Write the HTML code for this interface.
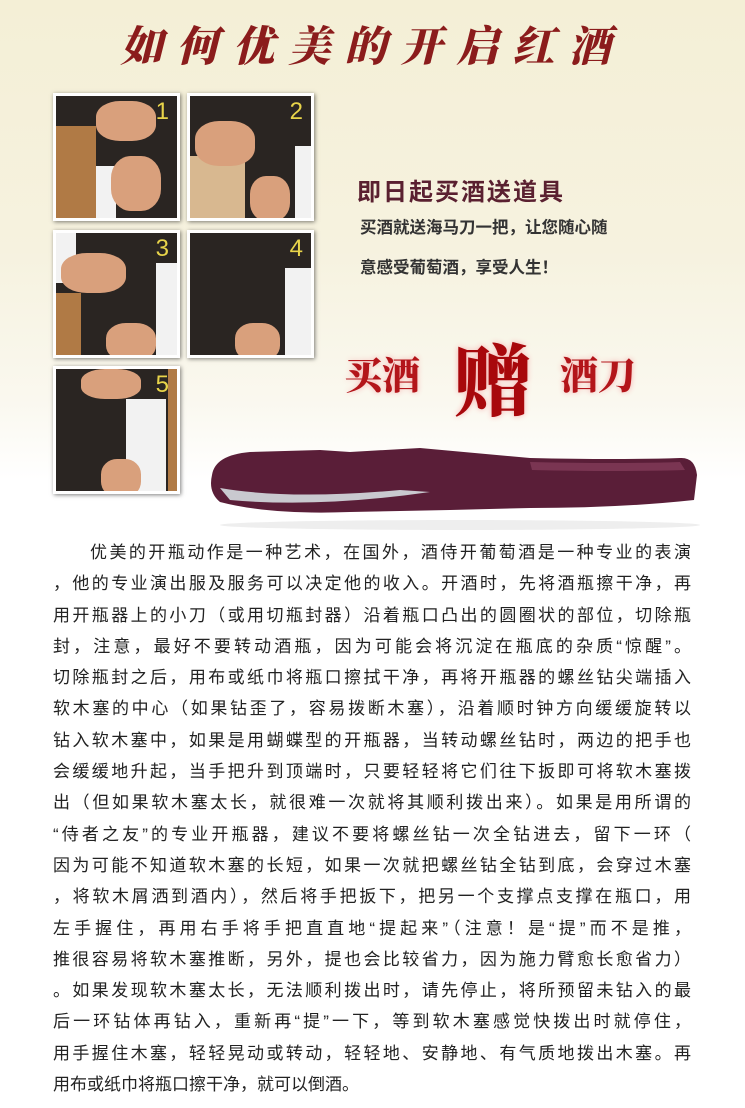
<!DOCTYPE html>
<html style="background:#fff"><head><meta charset="utf-8">
<style>
*{margin:0;padding:0;box-sizing:border-box}
body{width:745px;height:1108px;overflow:hidden;position:relative;font-family:"Liberation Sans","Noto Sans CJK SC",sans-serif;background:linear-gradient(#f4efd6 0px,#f6f2df 250px,#faf8ef 400px,#fff 480px,#fff 1108px)}
.title{position:absolute;left:0;top:14px;width:745px;text-align:center;font-family:"Noto Serif CJK SC",serif;font-size:42px;font-weight:900;color:#8b1c1c;letter-spacing:14px;font-style:italic}
.photo{position:absolute;width:127px;height:128px;border:3px solid #fff;box-shadow:1px 1px 4px rgba(0,0,0,.5);overflow:hidden;background:#2a2522}
.photo .num{position:absolute;right:8px;top:2px;color:#e8d44a;font-size:24px}
.photo .hand{position:absolute;border-radius:40%;background:#d9a07c}
.photo .shirt{position:absolute;background:#f2f2f2}
.photo .wood{position:absolute;background:#b07a45}
.promo{position:absolute;color:#5a2030;font-weight:bold}
.big{position:absolute;font-family:"Noto Serif CJK SC",serif;font-weight:900;color:#b3151a;text-shadow:0 0 6px #f7b0b0}
.para{position:absolute;left:53px;top:540px;width:638px;font-size:17px;color:#222}
.para div{height:31.3px;line-height:26px;text-align:justify;text-align-last:justify;white-space:nowrap}
</style></head><body>
<div class="title">如何优美的开启红酒</div>

<div class="photo" style="left:53px;top:93px"><div class="wood" style="left:0;top:30px;width:40px;height:98px"></div><div class="shirt" style="left:40px;top:70px;width:20px;height:58px"></div><div class="hand" style="left:40px;top:5px;width:60px;height:40px"></div><div class="hand" style="left:55px;top:60px;width:50px;height:55px"></div><span class="num">1</span></div>
<div class="photo" style="left:187px;top:93px"><div class="wood" style="left:0;top:60px;width:55px;height:68px;background:#d8b890"></div><div class="hand" style="left:5px;top:25px;width:60px;height:45px"></div><div class="hand" style="left:60px;top:80px;width:40px;height:45px"></div><div class="shirt" style="left:105px;top:50px;width:22px;height:78px"></div><span class="num">2</span></div>
<div class="photo" style="left:53px;top:230px"><div class="wood" style="left:0;top:60px;width:25px;height:68px"></div><div class="shirt" style="left:0;top:0;width:20px;height:50px"></div><div class="hand" style="left:5px;top:20px;width:65px;height:40px"></div><div class="hand" style="left:50px;top:90px;width:50px;height:38px"></div><div class="shirt" style="left:100px;top:30px;width:27px;height:98px"></div><span class="num">3</span></div>
<div class="photo" style="left:187px;top:230px"><div class="hand" style="left:45px;top:90px;width:45px;height:38px"></div><div class="shirt" style="left:95px;top:35px;width:32px;height:93px"></div><span class="num">4</span></div>
<div class="photo" style="left:53px;top:366px"><div class="hand" style="left:25px;top:0;width:60px;height:30px"></div><div class="shirt" style="left:70px;top:30px;width:40px;height:98px"></div><div class="wood" style="left:112px;top:0;width:15px;height:128px"></div><div class="hand" style="left:45px;top:90px;width:40px;height:38px"></div><span class="num">5</span></div>

<div class="promo" style="left:357px;top:172px;font-size:24px;letter-spacing:2px">即日起买酒送道具</div>
<div class="promo" style="left:360px;top:214px;font-size:16.5px;color:#333">买酒就送海马刀一把，让您随心随</div>
<div class="promo" style="left:360px;top:254px;font-size:16.5px;color:#333">意感受葡萄酒，享受人生！</div>

<div class="big" style="left:344px;top:345px;font-size:38px">买酒</div>
<div class="big" style="left:454px;top:320px;font-size:78px;color:#a8080c">赠</div>
<div class="big" style="left:560px;top:345px;font-size:38px">酒刀</div>

<svg style="position:absolute;left:200px;top:430px" width="520" height="100">
<path d="M12 45 Q15 25 50 22 L120 20 L150 22 L220 18 L330 28 Q420 30 480 28 Q495 27 497 45 L494 70 Q420 78 330 78 L250 80 L150 82 Q70 85 20 72 Q8 62 12 45Z" fill="#5a1e38"/>
<path d="M20 58 Q90 70 200 60 L230 62 Q120 78 30 70Z" fill="#c9c9cf"/>
<path d="M330 32 Q420 34 480 32 L485 40 Q420 42 332 40Z" fill="#7a3552"/>
<ellipse cx="260" cy="95" rx="240" ry="5" fill="#eee"/>
</svg>

<div class="para">
<div style="padding-left:37px">优美的开瓶动作是一种艺术，在国外，酒侍开葡萄酒是一种专业的表演</div>
<div>，他的专业演出服及服务可以决定他的收入。开酒时，先将酒瓶擦干净，再</div>
<div>用开瓶器上的小刀（或用切瓶封器）沿着瓶口凸出的圆圈状的部位，切除瓶</div>
<div>封，注意，最好不要转动酒瓶，因为可能会将沉淀在瓶底的杂质“惊醒”。</div>
<div>切除瓶封之后，用布或纸巾将瓶口擦拭干净，再将开瓶器的螺丝钻尖端插入</div>
<div>软木塞的中心（如果钻歪了，容易拨断木塞），沿着顺时钟方向缓缓旋转以</div>
<div>钻入软木塞中，如果是用蝴蝶型的开瓶器，当转动螺丝钻时，两边的把手也</div>
<div>会缓缓地升起，当手把升到顶端时，只要轻轻将它们往下扳即可将软木塞拨</div>
<div>出（但如果软木塞太长，就很难一次就将其顺利拨出来）。如果是用所谓的</div>
<div>“侍者之友”的专业开瓶器，建议不要将螺丝钻一次全钻进去，留下一环（</div>
<div>因为可能不知道软木塞的长短，如果一次就把螺丝钻全钻到底，会穿过木塞</div>
<div>，将软木屑洒到酒内），然后将手把扳下，把另一个支撑点支撑在瓶口，用</div>
<div>左手握住，再用右手将手把直直地“提起来”（注意！是“提”而不是推，</div>
<div>推很容易将软木塞推断，另外，提也会比较省力，因为施力臂愈长愈省力）</div>
<div>。如果发现软木塞太长，无法顺利拨出时，请先停止，将所预留未钻入的最</div>
<div>后一环钻体再钻入，重新再“提”一下，等到软木塞感觉快拨出时就停住，</div>
<div>用手握住木塞，轻轻晃动或转动，轻轻地、安静地、有气质地拨出木塞。再</div>
<div style="text-align-last:left">用布或纸巾将瓶口擦干净，就可以倒酒。</div>
</div>
</body></html>
